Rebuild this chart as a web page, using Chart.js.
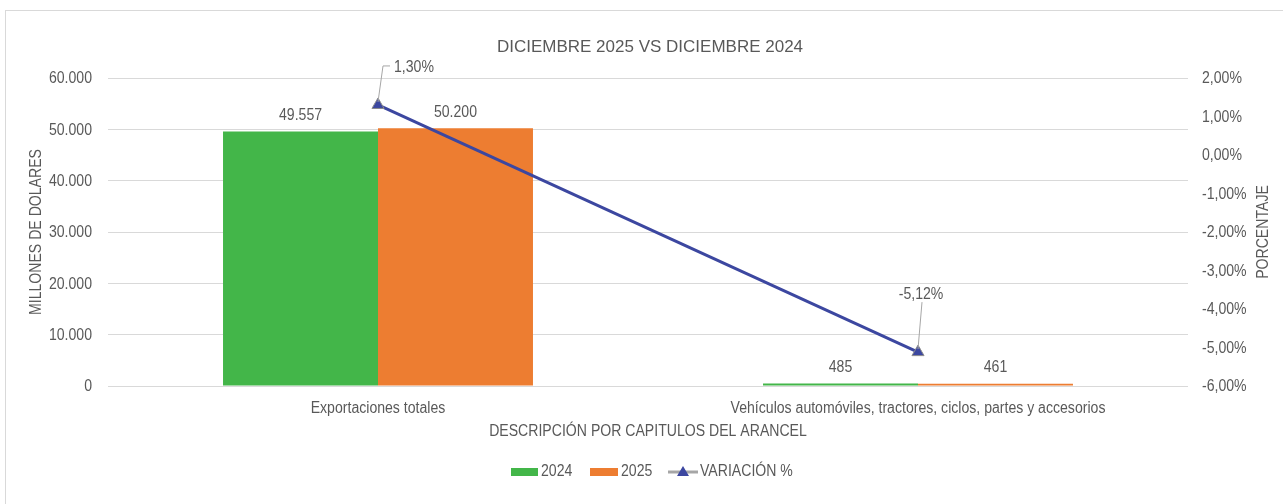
<!DOCTYPE html>
<html>
<head>
<meta charset="utf-8">
<script src="https://cdn.jsdelivr.net/npm/chart.js@4.4.1/dist/chart.umd.min.js"></script>
<style>
  html, body { margin: 0; padding: 0; background: #fff; overflow: hidden; }
  #frame { position: absolute; left: 5px; top: 10px; width: 1300px; height: 520px; border: 1px solid #d9d9d9; }
  #wrap { position: absolute; left: 0; top: 0; width: 1283px; height: 504px; }
</style>
</head>
<body>
<div id="frame"></div>
<div id="wrap"><canvas id="chart" width="1283" height="504"></canvas></div>
<script>
const categories = ['Exportaciones totales', 'Vehículos automóviles, tractores, ciclos, partes y accesorios'];
const values2024 = [49557, 485];
const values2025 = [50200, 461];
const variacion = [1.30, -5.12];
const leftTicks = [0, 10000, 20000, 30000, 40000, 50000, 60000];
const rightTicks = [-6, -5, -4, -3, -2, -1, 0, 1, 2];

const FONT = '"Liberation Sans", Arial, sans-serif';
const TXT = '#595959';
const GREEN = '#43b649';
const ORANGE = '#ed7d31';
const BLUE = '#3c47a0';
const SX = 0.88; // the original uses a condensed face

function fmtMiles(v) {
  return String(Math.round(v)).replace(/\B(?=(\d{3})+(?!\d))/g, '.');
}
function fmtPct(v) {
  return v.toFixed(2).replace('.', ',') + '%';
}

// narrow text: squeeze horizontally
function txt(ctx, s, x, y, align, rot) {
  ctx.save();
  ctx.translate(x, y);
  if (rot) ctx.rotate(rot);
  ctx.scale(SX, 1);
  ctx.textAlign = align || 'center';
  ctx.fillText(s, 0, 0);
  ctx.restore();
}

const extras = {
  id: 'extras',
  afterDraw(chart) {
    const ctx = chart.ctx;
    const area = chart.chartArea;
    const sx = chart.scales.x, sy = chart.scales.y, sy1 = chart.scales.y1;
    ctx.save();
    ctx.fillStyle = TXT;
    ctx.textBaseline = 'middle';

    // title
    ctx.font = '17px ' + FONT;
    ctx.textAlign = 'center';
    ctx.fillText('DICIEMBRE 2025 VS DICIEMBRE 2024', 650, 47);

    ctx.font = '16px ' + FONT;

    // tick labels
    leftTicks.forEach(v => txt(ctx, fmtMiles(v), area.left - 16, sy.getPixelForValue(v) + 1, 'right'));
    rightTicks.forEach(v => txt(ctx, fmtPct(v), area.right + 14, sy1.getPixelForValue(v) + 1, 'left'));
    categories.forEach((c, i) => txt(ctx, c, sx.getPixelForTick(i), 409, 'center'));

    // axis titles
    txt(ctx, 'DESCRIPCIÓN POR CAPITULOS DEL ARANCEL', (area.left + area.right) / 2, 432, 'center');
    txt(ctx, 'MILLONES DE DOLARES', 37, (area.top + area.bottom) / 2, 'center', -Math.PI / 2);
    txt(ctx, 'PORCENTAJE', 1264, (area.top + area.bottom) / 2, 'center', -Math.PI / 2);

    // bar value labels
    [0, 1].forEach(di => {
      const meta = chart.getDatasetMeta(di);
      const vals = chart.data.datasets[di].data;
      meta.data.forEach((bar, i) => {
        txt(ctx, fmtMiles(vals[i]), bar.x, bar.y - 16, 'center');
      });
    });

    // line labels with leader lines
    const lm = chart.getDatasetMeta(2);
    const p0 = lm.data[0], p1 = lm.data[1];
    ctx.strokeStyle = '#a6a6a6';
    ctx.lineWidth = 1;
    ctx.beginPath();
    ctx.moveTo(p0.x, p0.y - 3);
    ctx.lineTo(p0.x + 5, p0.y - 39);
    ctx.lineTo(p0.x + 12, p0.y - 39);
    ctx.stroke();
    txt(ctx, fmtPct(variacion[0]), p0.x + 16, p0.y - 37, 'left');
    ctx.beginPath();
    ctx.moveTo(p1.x, p1.y - 3);
    ctx.lineTo(p1.x + 4, p1.y - 50);
    ctx.stroke();
    txt(ctx, fmtPct(variacion[1]), p1.x + 3, p1.y - 58, 'center');

    // legend
    const ly = 472;
    ctx.fillStyle = GREEN;
    ctx.fillRect(511, ly - 4, 27, 8);
    ctx.fillStyle = TXT;
    txt(ctx, '2024', 541, ly, 'left');
    ctx.fillStyle = ORANGE;
    ctx.fillRect(590, ly - 4, 28, 8);
    ctx.fillStyle = TXT;
    txt(ctx, '2025', 621, ly, 'left');
    ctx.strokeStyle = '#a6a6a6';
    ctx.lineWidth = 3;
    ctx.beginPath();
    ctx.moveTo(668, ly);
    ctx.lineTo(698, ly);
    ctx.stroke();
    ctx.fillStyle = BLUE;
    ctx.beginPath();
    ctx.moveTo(683, ly - 6);
    ctx.lineTo(689, ly + 4);
    ctx.lineTo(677, ly + 4);
    ctx.closePath();
    ctx.fill();
    ctx.fillStyle = TXT;
    txt(ctx, 'VARIACIÓN %', 700, ly, 'left');
    ctx.restore();
  }
};

const ctx = document.getElementById('chart').getContext('2d');
new Chart(ctx, {
  type: 'bar',
  data: {
    labels: categories,
    datasets: [
      {
        label: '2024',
        data: values2024,
        backgroundColor: GREEN,
        yAxisID: 'y',
        order: 2,
        categoryPercentage: 0.574,
        barPercentage: 1
      },
      {
        label: '2025',
        data: values2025,
        backgroundColor: ORANGE,
        yAxisID: 'y',
        order: 2,
        categoryPercentage: 0.574,
        barPercentage: 1
      },
      {
        type: 'line',
        label: 'VARIACIÓN %',
        data: variacion,
        yAxisID: 'y1',
        borderColor: BLUE,
        borderWidth: 3,
        pointStyle: 'triangle',
        pointRadius: 7,
        pointBackgroundColor: BLUE,
        pointBorderColor: '#8c8c8c',
        pointBorderWidth: 1,
        order: 0
      }
    ]
  },
  options: {
    responsive: false,
    animation: false,
    devicePixelRatio: 1,
    layout: { padding: { top: 78, left: 0, right: 0, bottom: 0 } },
    plugins: {
      legend: { display: false },
      tooltip: { enabled: false }
    },
    scales: {
      x: {
        grid: { display: false },
        border: { display: false },
        ticks: { display: false },
        afterFit: s => { s.height = 118; }
      },
      y: {
        position: 'left',
        min: 0,
        max: 60000,
        afterBuildTicks: s => { s.ticks = leftTicks.map(v => ({ value: v })); },
        grid: { color: '#d9d9d9', drawTicks: false },
        border: { display: false },
        ticks: { display: false },
        afterFit: s => { s.width = 108; }
      },
      y1: {
        position: 'right',
        min: -6,
        max: 2,
        afterBuildTicks: s => { s.ticks = rightTicks.map(v => ({ value: v })); },
        grid: { display: false, drawTicks: false },
        border: { display: false },
        ticks: { display: false },
        afterFit: s => { s.width = 95; }
      }
    }
  },
  plugins: [extras]
});
</script>
</body>
</html>
